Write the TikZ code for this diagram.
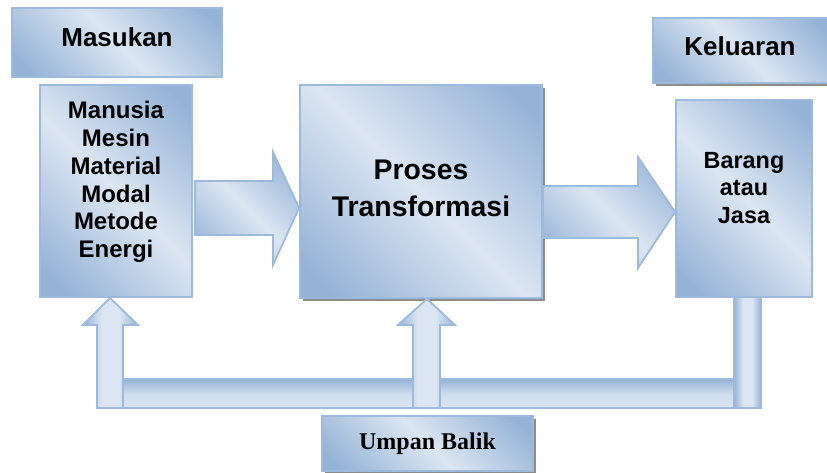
\documentclass[tikz,border=0pt]{standalone}
\usepackage{fontspec}
\setmainfont{Liberation Sans}
\newfontfamily\timesfont{Liberation Serif}
\usetikzlibrary{calc}
\definecolor{blt}{HTML}{DCE6F2}
\definecolor{bdk}{HTML}{95B3D7}
\definecolor{bedge}{HTML}{9DBADC}
\definecolor{shadowc}{HTML}{8C8C8C}
\pgfdeclarehorizontalshading{diagrefl}{100bp}{color(0bp)=(bdk); color(20bp)=(bdk); color(50bp)=(blt); color(80bp)=(bdk); color(100bp)=(bdk)}
\pgfdeclarehorizontalshading{hrefl}{100bp}{color(0bp)=(bdk); color(25bp)=(bdk); color(42bp)=(blt); color(58bp)=(blt); color(75bp)=(bdk); color(100bp)=(bdk)}
\begin{document}
\begin{tikzpicture}[x=1pt,y=-1pt,
  boxbase/.style={draw=bedge, line width=1.8pt, shading=diagrefl, shading angle=45},
  box/.style={boxbase, inner sep=0pt},
  barrow/.style={boxbase, line join=miter},
  vbar/.style={draw=bedge, line width=1.8pt, shading=hrefl},
  hbar/.style={draw=bedge, line width=1.8pt, shading=axis, top color=bdk, bottom color=blt, middle color=blt!80!bdk},
  shad/.style={fill=shadowc},
  lbl/.style={font=\fontsize{24}{27.7}\selectfont\bfseries, align=center, inner sep=0pt},
]
\useasboundingbox (0,0) rectangle (827,473);

% shadows
\fill[shad] (303,88) rectangle (545,301);
\fill[shad] (656,21) rectangle (830,86);
\fill[shad] (325,419) rectangle (536,474);

% boxes
\node[box, minimum width=210pt, minimum height=69pt] (masuk) at (117,42.5) {};
\node[box, minimum width=152pt, minimum height=212pt] (inp) at (116,191) {};
\node[box, minimum width=242pt, minimum height=213pt] (proc) at (421,191.5) {};
\node[box, minimum width=177pt, minimum height=65pt] (kel) at (741.5,50.5) {};
\node[box, minimum width=136pt, minimum height=197pt] (brg) at (744,198.5) {};
\node[box, minimum width=211pt, minimum height=55pt] (umpan) at (427.5,443.5) {};

% forward block arrows
\path[barrow] (195,181) -- (273,181) -- (273,152) -- (proc.west |- 0,208) -- (273,265) -- (273,235) -- (195,235) -- cycle;
\path[barrow] (proc.east |- 0,186) -- (638,186) -- (638,157) -- (brg.west |- 0,212) -- (638,268) -- (638,238) -- (proc.east |- 0,238) -- cycle;

% feedback loop
\path[hbar] (97,379) rectangle (761,408);
\path[vbar] (734,297) rectangle (761,408);
\path[vbar] (97,408) -- (97,325) -- (83,325) -- (inp.south -| 110,0) -- (138,325) -- (123,325) -- (123,408) -- cycle;
\path[vbar] (413,408) -- (413,325) -- (398,325) -- (proc.south -| 427,0) -- (455,325) -- (440,325) -- (440,408) -- cycle;

% labels
\node[lbl, font=\fontsize{26}{30}\selectfont\bfseries] (tmasuk) at (117,37.5) {Masukan};
\node[lbl] (tinp) at (116,182) {Manusia\\Mesin\\Material\\Modal\\Metode\\Energi};
\node[lbl, font=\fontsize{28.4}{36.7}\selectfont\bfseries] (tproc) at (421,188.5) {Proses\\Transformasi};
\node[lbl, font=\fontsize{26}{30}\selectfont\bfseries] (tkel) at (740,46.5) {Keluaran};
\node[lbl, font=\fontsize{23.4}{27.3}\selectfont\bfseries] (tbrg) at (744,188) {Barang\\atau\\Jasa};
\node[lbl, font=\fontsize{24}{28}\selectfont\bfseries\timesfont] (tumpan) at (427.5,443.5) {Umpan Balik};
\end{tikzpicture}
\end{document}
